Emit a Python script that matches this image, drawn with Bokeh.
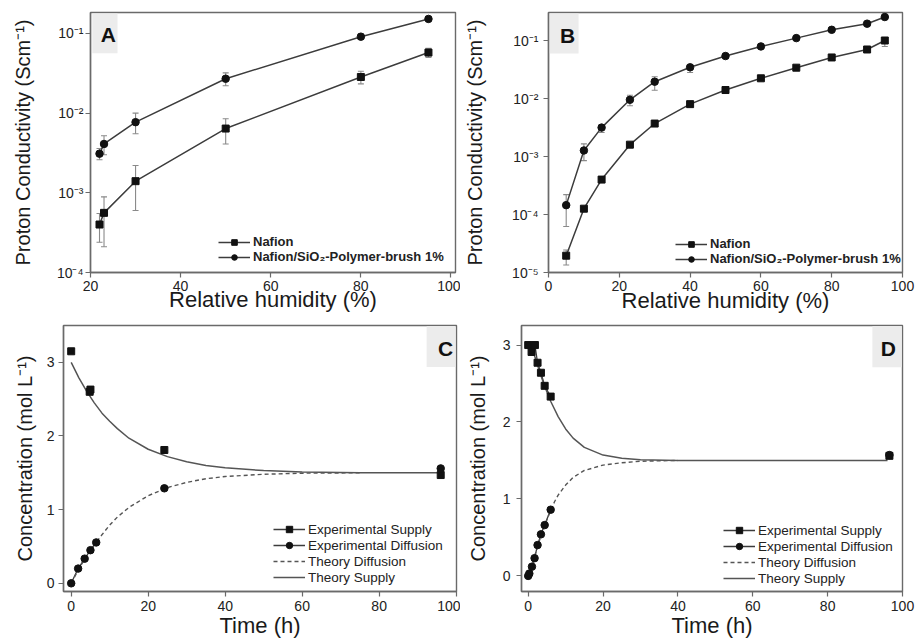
import math
from bokeh.plotting import figure
from bokeh.models import (Range1d, Whisker, ColumnDataSource, Legend, LegendItem,
                          BoxAnnotation, Label, CustomJSTickFormatter, FixedTicker, TeeHead)
from bokeh.layouts import column, row
from bokeh.embed import file_html
from bokeh.resources import INLINE

# ---------------- data ----------------
a_rh = [22, 23, 30, 50, 80, 95]
a_naf = [4.0e-4, 5.6e-4, 1.4e-3, 6.4e-3, 0.0284, 0.0575]
a_naf_hi = [5.5e-4, 8.9e-4, 2.2e-3, 8.5e-3, 0.0335, 0.065]
a_naf_lo = [2.4e-4, 2.1e-4, 6.0e-4, 4.1e-3, 0.0233, 0.050]
a_comp = [3.1e-3, 4.1e-3, 7.7e-3, 0.027, 0.091, 0.152]
a_comp_hi = [3.6e-3, 5.2e-3, 0.010, 0.032, 0.098, 0.158]
a_comp_lo = [2.6e-3, 3.0e-3, 5.5e-3, 0.022, 0.084, 0.146]

b_rh = [5, 10, 15, 23, 30, 40, 50, 60, 70, 80, 90, 95]
b_naf = [1.95e-5, 1.26e-4, 4.0e-4, 1.6e-3, 3.7e-3, 8.0e-3, 0.014, 0.0223, 0.034, 0.051, 0.070, 0.100]
b_naf_hi = [2.45e-5, 1.35e-4, 4.3e-4, 1.7e-3, 3.9e-3, 8.5e-3, 0.015, 0.0235, 0.036, 0.054, 0.074, 0.110]
b_naf_lo = [1.35e-5, 1.15e-4, 3.7e-4, 1.5e-3, 3.5e-3, 7.5e-3, 0.013, 0.021, 0.032, 0.048, 0.066, 0.079]
b_comp = [1.45e-4, 1.27e-3, 3.15e-3, 9.5e-3, 0.0195, 0.0345, 0.054, 0.079, 0.11, 0.153, 0.195, 0.254]
b_comp_hi = [2.2e-4, 1.65e-3, 3.5e-3, 0.0114, 0.0237, 0.038, 0.058, 0.084, 0.116, 0.16, 0.205, 0.27]
b_comp_lo = [6.2e-5, 8.5e-4, 2.6e-3, 7.5e-3, 0.0139, 0.028, 0.050, 0.074, 0.104, 0.146, 0.186, 0.24]

c_sup_t = [96, 0, 4.8, 5.0, 24.2]
c_sup = [1.47, 3.15, 2.60, 2.63, 1.81]
c_dif_t = [0, 1.8, 3.5, 5.0, 6.5, 24.2, 96]
c_dif = [0, 0.20, 0.335, 0.45, 0.555, 1.29, 1.56]
c_th_sup_t = [0, 2, 4, 6, 8, 10, 12, 15, 20, 25, 30, 35, 40, 50, 60, 75, 96]
c_th_sup = [3.0, 2.79, 2.61, 2.45, 2.31, 2.20, 2.10, 1.97, 1.82, 1.72, 1.65, 1.60, 1.57, 1.53, 1.51, 1.50, 1.50]
c_th_dif_t = [0, 2, 4, 6, 8, 10, 12, 15, 20, 25, 30, 35, 40, 50, 60, 75]
c_th_dif = [0, 0.20, 0.37, 0.52, 0.66, 0.79, 0.90, 1.03, 1.19, 1.30, 1.37, 1.42, 1.45, 1.48, 1.495, 1.50]

d_sup_t = [0, 0.9, 1.8, 2.5, 3.4, 4.4, 6.0, 96.5]
d_sup = [3.0, 2.91, 3.0, 2.77, 2.64, 2.47, 2.33, 1.56]
d_dif_t = [0, 0.3, 1.0, 1.7, 2.5, 3.4, 4.4, 6.0, 96.5]
d_dif = [0, 0.03, 0.12, 0.23, 0.40, 0.54, 0.66, 0.86, 1.57]
d_th_sup_t = [0, 1, 2, 3, 4, 5, 6, 8, 10, 12, 15, 20, 25, 30, 40, 96]
d_th_sup = [3.0, 2.95, 2.82, 2.66, 2.52, 2.39, 2.27, 2.07, 1.91, 1.79, 1.67, 1.57, 1.53, 1.51, 1.50, 1.50]
d_th_dif_t = [0, 1, 2, 3, 4, 5, 6, 7, 8, 10, 12, 15, 20, 25, 30, 40]
d_th_dif = [0, 0.13, 0.30, 0.46, 0.60, 0.73, 0.85, 0.96, 1.05, 1.18, 1.28, 1.37, 1.44, 1.47, 1.49, 1.50]

rh_ticks = {"A": [20, 40, 60, 80, 100], "B": [0, 20, 40, 60, 80, 100]}
log_ticks = {"A": [1e-4, 1e-3, 1e-2, 1e-1], "B": [1e-5, 1e-4, 1e-3, 1e-2, 1e-1]}
time_ticks = [0, 20, 40, 60, 80, 100]
conc_ticks = [0, 1, 2, 3]

lbl_naf = "Nafion"
lbl_comp = "Nafion/SiO\u2082-Polymer-brush 1%"
lbl_c = ["Experimental Supply", "Experimental Diffusion", "Theory Diffusion", "Theory Supply"]

# ---------------- style ----------------
FONT = "Liberation Sans"
LINE = "#3c3c3c"
MARK = "#111111"
ERR = "#8a8a8a"
FRAME = "#6a6a6a"

sup_js = CustomJSTickFormatter(code="""
const e = Math.round(Math.log10(tick));
const m = {'-':'\u207b','0':'\u2070','1':'\u00b9','2':'\u00b2','3':'\u00b3','4':'\u2074','5':'\u2075','6':'\u2076'};
return '10' + String(e).split('').map(c => m[c]).join('');
""")


def make_fig(w, h, xr, yr, borders, ylog=False):
    l, r, t, b = borders
    p = figure(width=w, height=h, x_range=xr, y_range=yr,
               y_axis_type="log" if ylog else "linear",
               output_backend="svg", toolbar_location=None,
               min_border_left=l, min_border_right=r, min_border_top=t, min_border_bottom=b,
               background_fill_color="white", border_fill_color="white")
    p.grid.visible = False
    p.outline_line_color = FRAME
    p.outline_line_width = 1.4
    for ax in (p.xaxis, p.yaxis):
        ax.axis_line_color = FRAME
        ax.axis_line_width = 1.4
        ax.major_tick_line_color = FRAME
        ax.major_tick_line_width = 1.2
        ax.major_tick_out = 5
        ax.major_tick_in = 0
        ax.minor_tick_line_color = None
        ax.major_label_text_font = FONT
        ax.major_label_text_font_size = "14px"
        ax.major_label_text_color = "#222222"
        ax.axis_label_text_font = FONT
        ax.axis_label_text_font_style = "normal"
        ax.axis_label_text_color = "#1a1a1a"
    p.xaxis.axis_label_text_font_size = "22px"
    p.yaxis.axis_label_text_font_size = "20px"
    return p


def fx(rng, f):
    return rng.start + f * (rng.end - rng.start)


def fy(rng, f, log=False):
    if log:
        a, b = math.log10(rng.start), math.log10(rng.end)
        return 10 ** (a + f * (b - a))
    return rng.start + f * (rng.end - rng.start)


def tag(p, letter, box, centre, log=False):
    xr, yr = p.x_range, p.y_range
    p.add_layout(BoxAnnotation(left=fx(xr, box[0]), right=fx(xr, box[1]),
                               bottom=fy(yr, box[2], log), top=fy(yr, box[3], log),
                               fill_color="#ececec", fill_alpha=1.0, line_color=None, level="underlay"))
    p.add_layout(Label(x=fx(xr, centre[0]), y=fy(yr, centre[1], log), text=letter,
                       text_font=FONT, text_font_size="21px", text_font_style="bold",
                       text_color="#111111", text_align="center", text_baseline="middle"))


def conductivity(p, rh, naf, naf_hi, naf_lo, comp, comp_hi, comp_lo, leg_loc, tick_key):
    s_n = ColumnDataSource(dict(x=rh, y=naf, hi=naf_hi, lo=naf_lo))
    s_c = ColumnDataSource(dict(x=rh, y=comp, hi=comp_hi, lo=comp_lo))
    for s in (s_n, s_c):
        p.add_layout(Whisker(source=s, base="x", upper="hi", lower="lo", line_color=ERR, line_width=1.1,
                             upper_head=TeeHead(size=6, line_color=ERR, line_width=1.1),
                             lower_head=TeeHead(size=6, line_color=ERR, line_width=1.1)))
    ln = p.line("x", "y", source=s_n, line_color=LINE, line_width=1.5)
    mn = p.scatter("x", "y", source=s_n, marker="square", size=7, fill_color=MARK, line_color=MARK)
    lc = p.line("x", "y", source=s_c, line_color=LINE, line_width=1.5)
    mc = p.scatter("x", "y", source=s_c, marker="circle", size=7.5, fill_color=MARK, line_color=MARK)
    leg = Legend(items=[LegendItem(label=lbl_naf, renderers=[ln, mn]),
                        LegendItem(label=lbl_comp, renderers=[lc, mc])],
                 location=leg_loc, padding=0, margin=0, spacing=0, glyph_width=32, glyph_height=14,
                 label_height=14, label_standoff=3, border_line_color=None, background_fill_alpha=0,
                 label_text_font=FONT, label_text_font_size="13px", label_text_font_style="bold",
                 label_text_color="#222222")
    p.add_layout(leg)
    p.xaxis.ticker = FixedTicker(ticks=rh_ticks[tick_key])
    p.yaxis.ticker = FixedTicker(ticks=log_ticks[tick_key])
    p.yaxis.formatter = sup_js
    p.xaxis.axis_label = "Relative humidity (%)"
    p.yaxis.axis_label = "Proton Conductivity (Scm\u207b\u00b9)"


def concentration(p, sup_t, sup, dif_t, dif, th_sup_t, th_sup, th_dif_t, th_dif, leg_loc, n_sup, n_dif):
    s_s = ColumnDataSource(dict(x=sup_t, y=sup))
    s_d = ColumnDataSource(dict(x=dif_t, y=dif))
    ls = p.line(x=sup_t[:n_sup], y=sup[:n_sup], line_color=LINE, line_width=1.3)
    ld = p.line(x=dif_t[:n_dif], y=dif[:n_dif], line_color=LINE, line_width=1.3)
    td = p.line(x=th_dif_t, y=th_dif, line_color="#555555", line_width=1.4, line_dash="4 3")
    ts = p.line(x=th_sup_t, y=th_sup, line_color="#555555", line_width=1.5)
    ms = p.scatter("x", "y", source=s_s, marker="square", size=7, fill_color=MARK, line_color=MARK)
    md = p.scatter("x", "y", source=s_d, marker="circle", size=7.5, fill_color=MARK, line_color=MARK)
    leg = Legend(items=[LegendItem(label=lbl_c[0], renderers=[ls, ms]),
                        LegendItem(label=lbl_c[1], renderers=[ld, md]),
                        LegendItem(label=lbl_c[2], renderers=[td]),
                        LegendItem(label=lbl_c[3], renderers=[ts])],
                 location=leg_loc, padding=0, margin=0, spacing=0, glyph_width=32, glyph_height=16,
                 label_height=16, label_standoff=3, border_line_color=None, background_fill_alpha=0,
                 label_text_font=FONT, label_text_font_size="13.5px",
                 label_text_color="#222222")
    p.add_layout(leg)
    p.xaxis.ticker = FixedTicker(ticks=time_ticks)
    p.yaxis.ticker = FixedTicker(ticks=conc_ticks)
    p.xaxis.axis_label = "Time (h)"
    p.yaxis.axis_label = "Concentration (mol L\u207b\u00b9)"


# ---------------- panel A ----------------
pA = make_fig(460, 318, Range1d(20, 101), Range1d(1e-4, 0.183), (90, 5, 12, 45), ylog=True)
conductivity(pA, a_rh, a_naf, a_naf_hi, a_naf_lo, a_comp, a_comp_hi, a_comp_lo, (128, 8), "A")
pA.yaxis.major_label_standoff = 2
pA.yaxis.axis_label_standoff = 20
pA.xaxis.major_label_standoff = 3
pA.xaxis.axis_label_standoff = -7
tag(pA, "A", (0.005, 0.074, 0.843, 0.996), (0.049, 0.916), log=True)

# ---------------- panel B ----------------
pB = make_fig(455, 318, Range1d(0, 100), Range1d(1e-5, 0.304), (88, 13, 12, 46), ylog=True)
conductivity(pB, b_rh, b_naf, b_naf_hi, b_naf_lo, b_comp, b_comp_hi, b_comp_lo, (127, 6), "B")
pB.yaxis.major_label_standoff = 5
pB.yaxis.axis_label_standoff = 23
pB.xaxis.major_label_standoff = 3
pB.xaxis.axis_label_standoff = -6
tag(pB, "B", (0.003, 0.085, 0.842, 0.996), (0.054, 0.912), log=True)

# ---------------- panel C ----------------
pC = make_fig(460, 322, Range1d(-2.0, 100.1), Range1d(-0.111, 3.5), (63, 4, 7, 46))
concentration(pC, c_sup_t, c_sup, c_dif_t, c_dif, c_th_sup_t, c_th_sup, c_th_dif_t, c_th_dif, (210, 6), 1, 5)
pC.yaxis.major_label_standoff = 4
pC.yaxis.axis_label_standoff = 8
pC.xaxis.major_label_standoff = 4
pC.xaxis.axis_label_standoff = -1
tag(pC, "C", (0.924, 0.997, 0.844, 0.998), (0.972, 0.914))

# ---------------- panel D ----------------
pD = make_fig(455, 322, Range1d(-1.79, 100), Range1d(-0.203, 3.254), (61, 13, 7, 47))
concentration(pD, d_sup_t, d_sup, d_dif_t, d_dif, d_th_sup_t, d_th_sup, d_th_dif_t, d_th_dif, (202, 5), 7, 8)
pD.yaxis.major_label_standoff = 6
pD.yaxis.axis_label_standoff = 11
pD.xaxis.major_label_standoff = 4
pD.xaxis.axis_label_standoff = -1
tag(pD, "D", (0.921, 0.998, 0.843, 0.998), (0.963, 0.914))

layout = column(row(pA, pB), row(pC, pD))
open("out.html", "w").write(file_html(layout, INLINE))
